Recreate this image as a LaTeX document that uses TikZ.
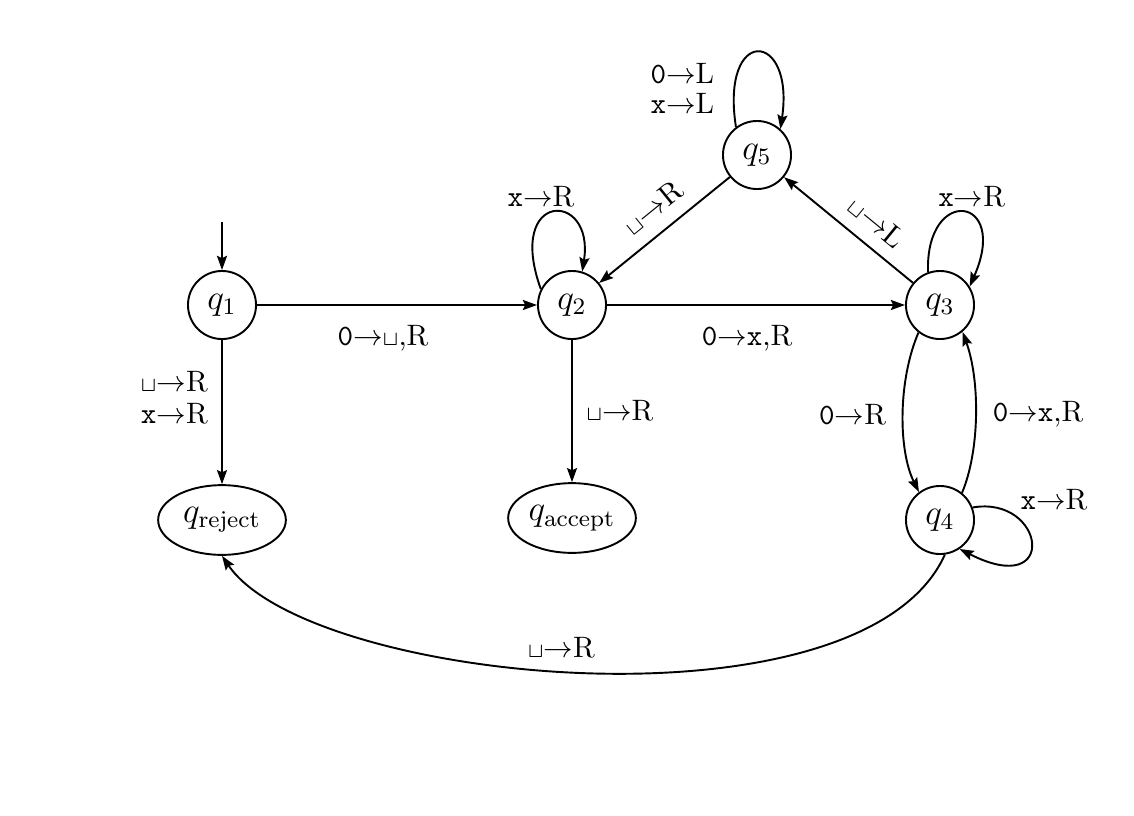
\documentclass[tikz,border=0pt]{standalone}
\usetikzlibrary{arrows.meta,shapes.geometric}
\newcommand\tmblank{\ensuremath{\scriptstyle\sqcup}}
\newcommand\tmz{\texttt{0}}
\newcommand\tmx{\texttt{x}}
\newcommand\tmto{\ensuremath{\rightarrow}}
\begin{document}
\begin{tikzpicture}[x=0.0119cm,y=-0.0119cm,
  >={Stealth[length=4.8pt,width=3.4pt,inset=0.8pt]},
  state/.style={circle,draw,line width=0.65pt,minimum size=0.81cm,inner sep=0pt,font=\large},
  halt/.style={ellipse,draw,line width=0.65pt,minimum width=1.52cm,minimum height=0.83cm,inner sep=0pt,font=\large},
  tr/.style={->,line width=0.65pt},
  lbl/.style={inner sep=1.5pt}]
\useasboundingbox (0,0) rectangle (1134,815);
\node[state] (q1) at (222,305) {$q_1$};
\node[state] (q2) at (572,305) {$q_2$};
\node[state] (q3) at (940,305) {$q_3$};
\node[state] (q4) at (940,520) {$q_4$};
\node[state] (q5) at (757,155) {$q_5$};
\node[halt] (qr) at (222,520) {$q_{\mathrm{reject}}$};
\node[halt] (qa) at (572,518) {$q_{\mathrm{accept}}$};
\coordinate (start) at (222,222);
\draw[tr] (start) -- (q1);
\draw[tr] (q1) -- node[lbl,below=5pt,pos=0.45] {\tmz\tmto\tmblank,R} (q2);
\draw[tr] (q2) -- node[lbl,below=5pt,pos=0.47] {\tmz\tmto\tmx,R} (q3);
\draw[tr] (q1) -- node[lbl,left=3pt,pos=0.4,align=right] {\tmblank\tmto R\\[-1pt]\tmx\tmto R} (qr);
\draw[tr] (q2) -- node[lbl,right=3pt] {\tmblank\tmto R} (qa);
\draw[tr] (q5) -- node[lbl,sloped,above=3pt,pos=0.47] {\tmblank\tmto R} (q2);
\draw[tr] (q3) -- node[lbl,sloped,above=3pt,pos=0.4] {\tmblank\tmto L} (q5);
\draw[tr] (q2.153) .. controls (505,190) and (595,190) .. node[lbl,above,xshift=-4pt] {\tmx\tmto R} (q2.73);
\draw[tr] (q3.110) .. controls (925,185) and (1010,195) .. node[lbl,above,xshift=3pt] {\tmx\tmto R} (q3.32);
\draw[tr] (q5.127) .. controls (720,25) and (795,30) .. node[lbl,pos=0.15,anchor=east,xshift=-5pt,align=left] {\tmz\tmto L\\[-2pt]\tmx\tmto L} (q5.48);
\draw[tr] (q4.21) .. controls (1045,495) and (1060,600) .. node[lbl,pos=0.25,anchor=south west] {\tmx\tmto R} (q4.-56);
\draw[tr] (q3.232) .. controls (898,380) and (898,450) .. node[lbl,left=4pt] {\tmz\tmto R} (q4.127);
\draw[tr] (q4.51) .. controls (980,450) and (980,380) .. node[lbl,right=4pt] {\tmz\tmto\tmx,R} (q3.-50);
\draw[tr] (q4.-82) .. controls (862,738) and (309,684) .. node[lbl,above=3pt,xshift=-8pt] {\tmblank\tmto R} (qr.south);
\end{tikzpicture}
\end{document}
